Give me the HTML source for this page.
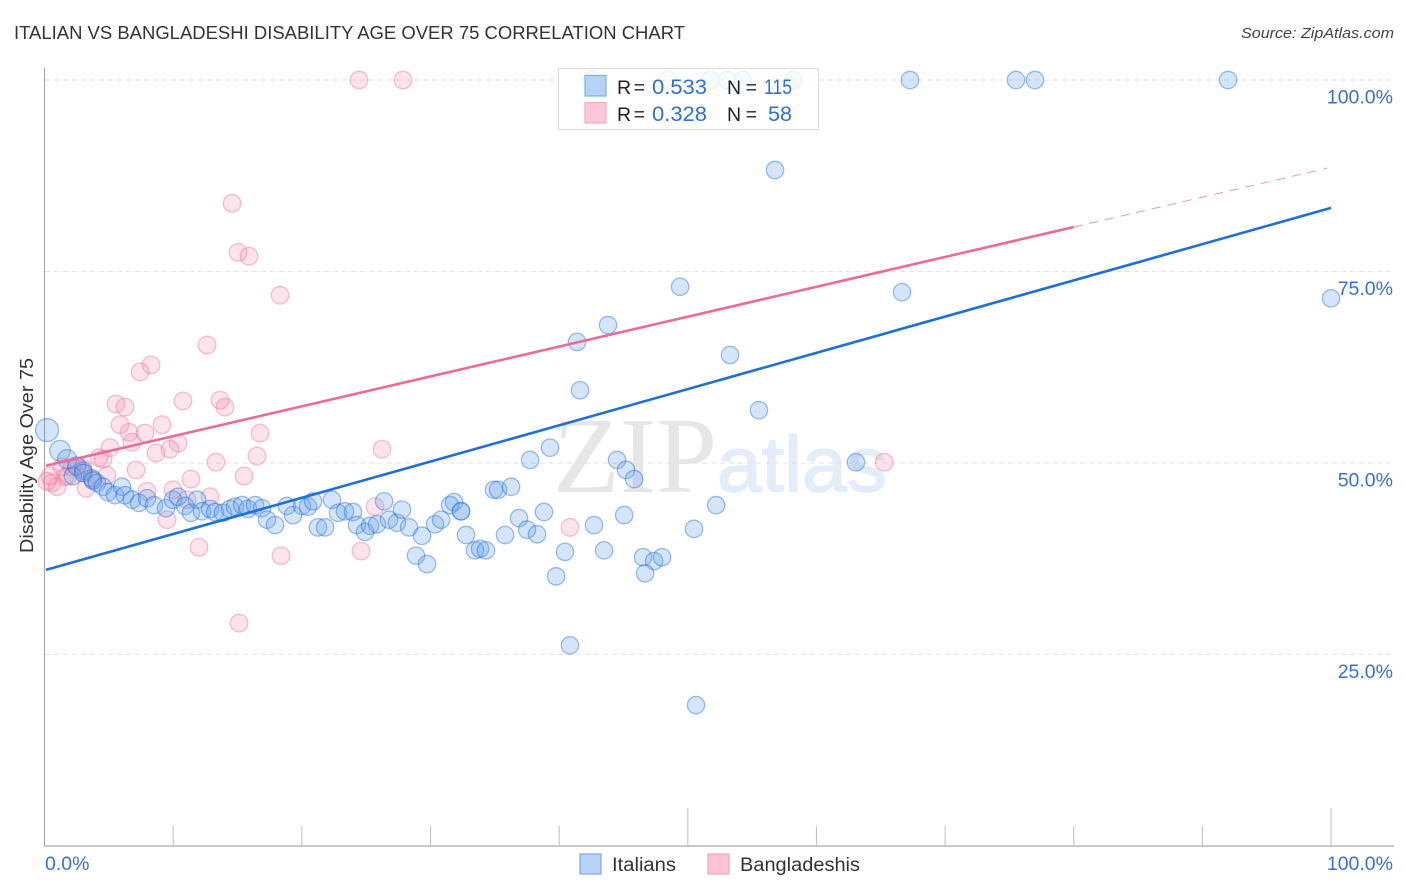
<!DOCTYPE html>
<html lang="en">
<head>
<meta charset="utf-8">
<title>Italian vs Bangladeshi Disability Age Over 75 Correlation Chart</title>
<style>
html,body{margin:0;padding:0;background:#fff;}
svg{display:block;font-family:"Liberation Sans",sans-serif;}
</style>
</head>
<body>
<svg id="chart" xmlns="http://www.w3.org/2000/svg" width="1406" height="892" viewBox="0 0 1406 892">
  <text x="14" y="39" font-size="18.5" fill="#333" textLength="671" lengthAdjust="spacingAndGlyphs">ITALIAN VS BANGLADESHI DISABILITY AGE OVER 75 CORRELATION CHART</text>
  <text x="1394" y="38" font-size="15" font-style="italic" fill="#444" text-anchor="end" textLength="153" lengthAdjust="spacingAndGlyphs">Source: ZipAtlas.com</text>
  <text x="553" y="492" font-family="'Liberation Serif',serif" font-size="108" fill="#e6e6e6" textLength="164" lengthAdjust="spacingAndGlyphs">ZIP</text>
  <text x="717" y="491" font-family="'Liberation Sans',sans-serif" font-size="78" fill="#e3ecf9" stroke="#e3ecf9" stroke-width="1.5" textLength="170" lengthAdjust="spacingAndGlyphs">atlas</text>
  <g id="grid"></g>
  <g id="axes"></g>
  <g id="pink"></g>
  <g id="blue"></g>
  <g id="trends"></g>
  <g id="labels"></g>

  <g>
    <rect x="558.5" y="68.5" width="260" height="61" fill="#fff" fill-opacity="0.82" stroke="#dcdcdc" stroke-width="1.2"/>
    <rect x="585" y="75.5" width="21" height="20.5" fill="#b5d2f7" stroke="#86ade6" stroke-width="1.2"/>
    <rect x="585" y="102.5" width="21" height="20.5" fill="#fcc7d8" stroke="#f2abc2" stroke-width="1.2"/>
    <text x="617" y="94" font-size="19.5" fill="#222" textLength="28" lengthAdjust="spacing">R =</text>
    <text x="652" y="94" font-size="21" fill="#2f6fd0" textLength="55" lengthAdjust="spacingAndGlyphs">0.533</text>
    <text x="727" y="94" font-size="19.5" fill="#222" textLength="30" lengthAdjust="spacing">N =</text>
    <text x="764" y="94" font-size="21" fill="#2f6fd0" textLength="28" lengthAdjust="spacingAndGlyphs">115</text>
    <text x="617" y="121" font-size="19.5" fill="#222" textLength="28" lengthAdjust="spacing">R =</text>
    <text x="652" y="121" font-size="21" fill="#2f6fd0" textLength="55" lengthAdjust="spacingAndGlyphs">0.328</text>
    <text x="727" y="121" font-size="19.5" fill="#222" textLength="30" lengthAdjust="spacing">N =</text>
    <text x="768" y="121" font-size="21" fill="#2f6fd0" textLength="24" lengthAdjust="spacingAndGlyphs">58</text>
  </g>

  <text transform="translate(33,553) rotate(-90)" font-size="18" fill="#333" textLength="195" lengthAdjust="spacingAndGlyphs">Disability Age Over 75</text>

  <g>
    <rect x="580" y="854" width="21" height="20" fill="#b5d2f7" stroke="#7fa8e2" stroke-width="1.2"/>
    <text x="612" y="871" font-size="19" fill="#333" textLength="64" lengthAdjust="spacingAndGlyphs">Italians</text>
    <rect x="708" y="854" width="21" height="20" fill="#fcc3d6" stroke="#f0a5be" stroke-width="1.2"/>
    <text x="740" y="871" font-size="19" fill="#333" textLength="120" lengthAdjust="spacingAndGlyphs">Bangladeshis</text>
  </g>
</svg>
<script>
const xTickValues = [0,10,20,30,40,50,60,70,80,90,100];
const xTickLabels = ["0.0%","100.0%"];
const xLabelValues = [0,100];
const yTickValues = [25,50,75,100];
const yTickLabels = ["25.0%","50.0%","75.0%","100.0%"];

const italianX = [
0.19,1.2,1.75,2.5,3.0,2.2,2.99,3.68,3.76,4.07,4.54,4.93,5.47,6.02,6.25,6.79,7.34,7.96,8.5,9.44,9.98,10.37,10.91,11.38,11.85,12.24,12.86,13.25,13.87,14.41,14.8,15.35,15.81,16.36,16.9,17.29,17.91,18.84,19.31,20.01,20.48,20.87,21.25,21.8,22.34,22.81,23.35,
23.97,24.28,24.91,25.3,25.84,26.39,26.77,27.39,27.78,28.33,29.34,30.35,30.82,31.52,31.83,32.37,32.76,32.37,28.87,29.73,33.46,33.85,34.31,
42.56,48.46,51.73,53.05,54.29,58.18,67.27,75.51,76.99,92.0,
56.78,49.4,66.65,100,43.8,41.39,53.28,41.62,55.53,39.29,37.74,44.5,45.2,45.82,63.07,52.2,50.48,34.93,35.25,36.26,38.82,36.88,37.5,38.28,35.79,45.05,42.71,40.45,43.49,39.76,46.52,47.38,48,46.68,40.84,50.64
];
const italianY = [
54.3,51.6,50.5,49.6,49,48.3,48.7,48,47.7,47.4,46.9,46.2,45.8,46.9,45.8,45.2,44.8,45.4,44.5,44.1,45.2,45.6,44.4,43.5,45.2,43.7,44,43.6,43.5,44,44.3,44.5,44,44.5,44.1,42.6,41.9,44.4,43.2,44.4,44.3,45,41.6,41.6,45.2,43.5,43.7,
43.6,41.9,41,41.8,42,45,42.6,42.2,43.9,41.6,40.5,42,42.6,44.5,44.9,43.7,40.6,43.7,37.9,36.8,38.6,38.8,38.6,
100,100,100,100,100,100,100,100,100,100,
88.25,73,72.3,71.5,68,65.8,64.1,59.5,56.9,52,50.4,50.4,49.1,47.9,50.1,44.5,41.4,46.5,46.5,46.9,43.6,42.8,41.3,40.7,40.6,43.2,41.9,38.4,38.6,35.2,37.7,37.2,37.7,35.6,26.2,18.4
];
const italianWeight = [1.75,1.4,1.2,1.1];

const bangladeshiX = [
24.44,27.86,14.57,15.04,15.89,18.3,12.63,8.27,7.42,5.55,6.25,10.76,13.64,14.02,5.86,6.56,9.13,7.81,6.79,10.37,16.75,9.75,8.66,5.08,4.23,4.54,13.32,16.51,7.11,15.5,11.38,4.85,7.96,9.98,12.86,11.07,9.52,12,18.38,0.58,0.96,0.42,1.59,3.22,2.13,2.52,1.35,3.76,65.27,26.23,25.68,24.6,40.84,15.12,0.19,3.06,2.99,1.82
];
const bangladeshiY = [
100,100,83.9,77.5,77,71.9,65.4,62.8,61.9,57.7,57.3,58.1,58.2,57.3,55,54,55,53.9,52.7,52.6,53.9,51.8,51.3,52,50.7,50.5,50.1,50.9,49.1,48.3,47.9,48.4,46.3,46.5,45.6,45.2,42.6,39,37.9,47.4,46.9,48.3,48.2,46.7,49.5,49.5,49.5,47.8,50.1,51.8,44.3,38.5,41.6,29.1,47.6,48.7,49.3,48.3
];

const italianTrend = {intercept: 36, slope: 0.473};
const bangladeshiTrend = {intercept: 49.6, slope: 0.39};
const bangladeshiSolidEnd = 80;
const bangladeshiDashEnd = 99.7;

const NS = "http://www.w3.org/2000/svg";
function xScale(v){ return 44.6 + v * 12.864; }
function yScale(v){ return 846 - v * 7.66; }
function make(parent, tag, attrs){
  const el = document.createElementNS(NS, tag);
  for (const k in attrs) el.setAttribute(k, attrs[k]);
  document.getElementById(parent).appendChild(el);
  return el;
}

yTickValues.forEach(function(v){
  const line = make("grid", "line", {x1:45, x2:1394, y1:yScale(v), y2:yScale(v), stroke:"#e2e2e2", "stroke-width":1, "stroke-dasharray":"5 4"});
  
  
});

const yAxis = make("axes", "line", {x1:44.5, x2:44.5, y1:68, y2:846, stroke:"#aaa", "stroke-width":1.2});


const xAxis = make("axes", "line", {x1:44, x2:1394, y1:846, y2:846, stroke:"#aaa", "stroke-width":1.2});



xTickValues.forEach(function(v){
  if (v === 0) return;
  const top = (v % 50 === 0) ? 808 : 826;
  const tick = make("axes", "line", {x1:xScale(v), x2:xScale(v), y1:top, y2:846, stroke:"#c4c4c4", "stroke-width":1.1});
  
  
});

yTickValues.forEach(function(v, i){
  const t = make("labels", "text", {x:1393, y:yScale(v) + 23.5, "font-size":19.5, fill:"#3a6fd0", "text-anchor":"end"});
  t.textContent = yTickLabels[i];
  
  
});

xLabelValues.forEach(function(v, i){
  const t = make("labels", "text", {x: i === 0 ? 45 : 1393, y:870, "font-size":19.5, fill:"#3a6fd0", "text-anchor": i === 0 ? "start" : "end"});
  t.textContent = xTickLabels[i];
  
  
});

bangladeshiX.forEach(function(v, i){
  const c = make("pink", "circle", {cx:xScale(v), cy:yScale(bangladeshiY[i]), r:8.8, fill:"rgba(246,140,172,0.24)", stroke:"rgba(236,110,150,0.42)", "stroke-width":1.3});
  
  
});

italianX.forEach(function(v, i){
  const w = italianWeight[i] || 1;
  const c = make("blue", "circle", {cx:xScale(v), cy:yScale(italianY[i]), r:8.7 * Math.sqrt(w), fill:"rgba(100,160,235,0.28)", stroke:"rgba(40,110,220,0.45)", "stroke-width":1.3});
  
  
});

function trendY(t, x){ return t.intercept + t.slope * x; }

const blueTrend = make("trends", "line", {x1:xScale(0.1), y1:yScale(trendY(italianTrend,0.1)), x2:xScale(100), y2:yScale(trendY(italianTrend,100)), stroke:"#1f6fd8", "stroke-width":2.6});



const pinkTrend = make("trends", "line", {x1:xScale(0.1), y1:yScale(trendY(bangladeshiTrend,0.1)), x2:xScale(bangladeshiSolidEnd), y2:yScale(trendY(bangladeshiTrend,bangladeshiSolidEnd)), stroke:"#ec6a97", "stroke-width":2.6});



const pinkDash = make("trends", "line", {x1:xScale(bangladeshiSolidEnd), y1:yScale(trendY(bangladeshiTrend,bangladeshiSolidEnd)), x2:xScale(bangladeshiDashEnd), y2:yScale(trendY(bangladeshiTrend,bangladeshiDashEnd)), stroke:"#eda0bb", "stroke-width":1.1, "stroke-dasharray":"9 7"});


</script>
</body>
</html>
